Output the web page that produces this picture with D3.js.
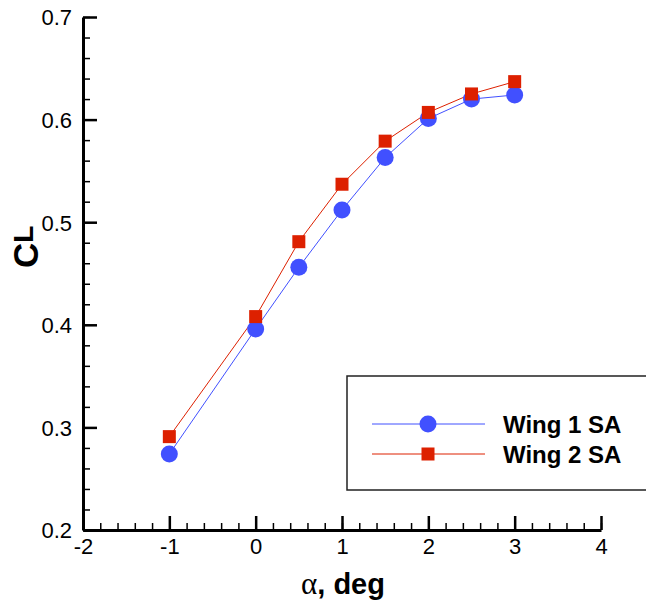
<!DOCTYPE html>
<html>
<head>
<meta charset="utf-8">
<script src="https://cdn.jsdelivr.net/npm/d3@7"></script>
<style>
  body { margin: 0; background: #fff; overflow: hidden; }
  svg { display: block; font-family: "Liberation Sans", Arial, sans-serif; }
</style>
</head>
<body>
<svg id="canvas" width="646" height="608"></svg>
<script>
// values
const alpha = [-1, 0, 0.5, 1, 1.5, 2, 2.5, 3];
const wing1 = [0.274, 0.396, 0.456, 0.512, 0.563, 0.601, 0.620, 0.624];
const wing2 = [0.291, 0.408, 0.481, 0.537, 0.579, 0.607, 0.625, 0.637];
const seriesNames = ["Wing 1 SA", "Wing 2 SA"];
const xTicks = [-2, -1, 0, 1, 2, 3, 4];
const yTicks = [0.2, 0.3, 0.4, 0.5, 0.6, 0.7];

const blue = "#4150ff";
const red = "#dd2000";

let canvas = d3.select("#canvas");

let x = d3.scaleLinear().domain([-2, 4]).range([83, 601]);
let y = d3.scaleLinear().domain([0.2, 0.7]).range([530, 17]);

// minor ticks first so majors draw on top
let xMinor = d3.range(-2, 4.001, 0.2);
let yMinor = d3.range(0.2, 0.7001, 0.02);

canvas.append("g")
    .attr("transform", "translate(0,530)")
    .call(d3.axisBottom(x).tickValues(xMinor).tickSize(-7).tickFormat(""))
    .call(g => g.select(".domain").remove())
    .call(g => g.selectAll("line").attr("stroke-width", 1.5));

canvas.append("g")
    .attr("transform", "translate(83,0)")
    .call(d3.axisLeft(y).tickValues(yMinor).tickSize(-7).tickFormat(""))
    .call(g => g.select(".domain").remove())
    .call(g => g.selectAll("line").attr("stroke-width", 1.5));

let xAxis = canvas.append("g")
    .attr("transform", "translate(0,530)")
    .call(d3.axisBottom(x).tickValues(xTicks).tickSizeInner(-14).tickSizeOuter(0).tickPadding(8).tickFormat(d => String(d)));

let yAxis = canvas.append("g")
    .attr("transform", "translate(83,0)")
    .call(d3.axisLeft(y).tickValues(yTicks).tickSizeInner(-14).tickSizeOuter(0).tickPadding(11).tickFormat(d3.format(".1f")));

[xAxis, yAxis].forEach(g => {
    g.select(".domain").attr("stroke-width", 3);
    g.selectAll(".tick line").attr("stroke-width", 2.5);
    g.selectAll("text").attr("font-size", 22).attr("fill", "#000")
        .attr("font-family", "Liberation Sans, Arial, sans-serif");
});
yAxis.selectAll("text").attr("dy", "0.36em");
xAxis.selectAll("text").attr("dy", "0.72em");

// series
let line = d3.line().x((d, i) => x(alpha[i])).y(d => y(d));

canvas.append("path").datum(wing1).attr("d", line)
    .attr("fill", "none").attr("stroke", blue).attr("stroke-width", 1);
canvas.append("path").datum(wing2).attr("d", line)
    .attr("fill", "none").attr("stroke", red).attr("stroke-width", 1);

canvas.selectAll("circle.w1").data(wing1).enter().append("circle")
    .attr("class", "w1")
    .attr("cx", (d, i) => x(alpha[i]))
    .attr("cy", d => y(d))
    .attr("r", 8.5)
    .attr("fill", blue);

canvas.selectAll("rect.w2").data(wing2).enter().append("rect")
    .attr("class", "w2")
    .attr("x", (d, i) => x(alpha[i]) - 6.5)
    .attr("y", d => y(d) - 6.5)
    .attr("width", 13)
    .attr("height", 13)
    .attr("fill", red);

// legend, box is open on the right (runs off the picture)
let legend = canvas.append("g");
legend.append("path")
    .attr("d", "M660,376H347V490H660")
    .attr("fill", "#fff").attr("stroke", "#222").attr("stroke-width", 1.5);

let rows = [424, 454];
[blue, red].forEach((c, i) => {
    legend.append("line")
        .attr("x1", 372).attr("x2", 485).attr("y1", rows[i]).attr("y2", rows[i])
        .attr("stroke", c).attr("stroke-width", 1);
    if (i == 0) {
        legend.append("circle").attr("cx", 428).attr("cy", rows[i]).attr("r", 8.5).attr("fill", c);
    } else {
        legend.append("rect").attr("x", 428 - 6.5).attr("y", rows[i] - 6.5)
            .attr("width", 13).attr("height", 13).attr("fill", c);
    }
    legend.append("text")
        .attr("x", 503).attr("y", rows[i]).attr("dy", "0.36em")
        .attr("font-size", 24).attr("font-weight", "bold")
        .text(seriesNames[i]);
});

// axis titles
let xt = canvas.append("text")
    .attr("x", 343).attr("y", 594)
    .attr("text-anchor", "middle");
xt.append("tspan").attr("font-size", 31).attr("font-family", "Liberation Serif, Times New Roman, serif").text("α");
xt.append("tspan").attr("font-size", 29).attr("font-weight", "bold").text(", deg");

let yt = canvas.append("text")
    .attr("transform", "translate(38,268) rotate(-90)")
    .attr("font-weight", "bold");
yt.append("tspan").attr("font-size", 35).text("C");
yt.append("tspan").attr("font-size", 28).attr("dy", -5).text("L");
</script>
</body>
</html>
